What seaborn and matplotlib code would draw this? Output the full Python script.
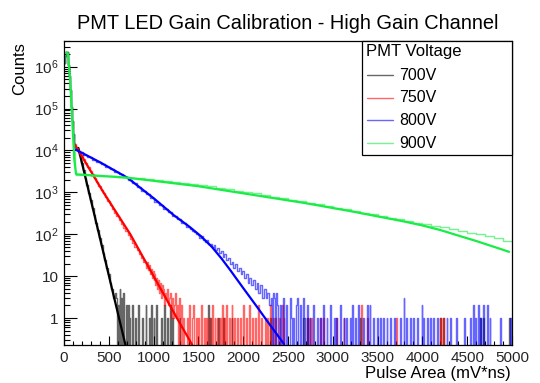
import numpy as np
import matplotlib
matplotlib.use("Agg")
import matplotlib.pyplot as plt
import seaborn as sns
from matplotlib.lines import Line2D
from matplotlib.patches import Rectangle
from matplotlib.ticker import FixedLocator, FixedFormatter, MultipleLocator, LogLocator, NullFormatter

# ---------------------------------------------------------------- data
series_labels = ["700V", "750V", "800V", "900V"]
hist_colors = ["#000000", "#ff0000", "#0000ff", "#19ec45"]

# pedestal region, 10 mV*ns bins starting at 0
head_700 = [1.2e6, 1.8e6, 2.3e6, 2.3e6, 1.8e6, 1.1e6, 6e5, 2.8e5, 1.1e5, 5e4, 2.5e4]
head_750 = [1.2e6, 1.8e6, 2.3e6, 2.3e6, 1.8e6, 1.1e6, 6e5, 2.8e5, 1.1e5, 5e4, 2.5e4]
head_800 = [1.2e6, 1.8e6, 2.3e6, 2.3e6, 1.8e6, 1.1e6, 6e5, 2.8e5, 1.1e5, 5e4, 2.5e4]
head_900 = [1.2e6, 1.8e6, 2.3e6, 2.3e6, 1.8e6, 1.1e6, 6e5, 2.8e5, 1.1e5, 5e4, 2.5e4, 9000, 3000]

# single-photoelectron slope (wider bins)
body_edges_700 = list(range(110, 571, 20))
body_counts_700 = [12000, 11000, 10000, 7600, 5100, 3370, 2230, 1480, 980, 650, 430, 285,
                   190, 125, 83, 55, 36, 24, 16, 11, 7, 5, 3]
body_edges_750 = list(range(110, 911, 25))
body_counts_750 = [14400, 11700, 9400, 7600, 6200, 5000, 4060, 3300, 2680, 2180, 1770, 1430,
                   1160, 940, 765, 620, 500, 405, 330, 270, 218, 177, 144, 117, 94, 76,
                   62, 50, 41, 33, 27, 22]
body_edges_800 = list(range(110, 1411, 50)) + list(range(1430, 2311, 20))
body_counts_800 = [10200, 9100, 7900, 6900, 6000, 5300, 4650, 4050, 3550, 3100, 2700, 2350,
                   2000, 1650, 1350, 1100, 910, 740, 600, 500, 410, 335, 275, 225, 185, 150,
                   132, 120, 112, 100, 95, 83, 89, 72, 66, 71, 58, 60, 50, 55, 42, 46,
                   35, 40, 28, 33, 24, 27, 20, 22, 16, 19, 13, 16, 11, 13, 9, 11, 7, 9,
                   6, 8, 5, 7, 4, 6, 3, 5, 3, 4, 2]
body_edges_900 = [130] + list(range(200, 5001, 100))
body_counts_900 = [2650, 2580, 2520, 2460, 2400, 2330, 2250, 2170, 2080, 1980,
                   1880, 1780, 1690, 1590, 1490, 1400, 1300, 1200, 1100, 1020,
                   950, 870, 790, 730, 670, 610, 560, 515, 470, 430,
                   395, 360, 330, 300, 275, 250, 228, 208, 190, 173,
                   158, 145, 132, 120, 110, 100, 90, 80, 70]

# sparse tail: left edges of non-empty 10 mV*ns bins and their counts
tail_x_700 = [570, 580, 600, 620, 640, 660, 690, 710, 730, 760, 790, 830, 870, 910, 950,
              970, 1000, 1030, 1080, 1120, 1150, 1180, 1210, 1290, 1610, 1630, 1720, 1780,
              1870, 2300, 2670, 2710, 3300, 4200, 4230, 4640, 4680, 4970]
tail_n_700 = [4, 3, 2, 5, 3, 4, 2, 2, 1, 2, 1, 2, 1, 2, 1,
              2, 1, 2, 1, 2, 1, 2, 1, 1, 2, 1, 1, 1,
              1, 1, 1, 1, 1, 1, 1, 1, 1, 1]
tail_x_750 = [910, 920, 930, 940, 950, 960, 970, 980, 990, 1000, 1010, 1020, 1030, 1040, 1050,
              1060, 1070, 1080, 1090, 1100, 1110, 1120, 1130, 1140, 1150, 1160, 1170, 1180,
              1190, 1200, 1210, 1220, 1230, 1240, 1250, 1260, 1280, 1300, 1310, 1330, 1370,
              1400, 1430, 1440, 1470, 1500, 1530, 1560, 1590, 1620, 1650, 1680, 1710, 1740,
              1760, 1790, 1810, 1840, 1870, 1900, 1930, 1960, 2000, 2030, 2070, 2100, 2130,
              2170, 2200, 2240, 2270, 2300, 2330, 2360, 2400, 2430, 2450, 2710, 2740, 2760,
              2860, 2890, 3040, 3120, 3320, 3380, 3710, 4200, 4230]
tail_n_750 = [20, 16, 22, 14, 18, 11, 15, 9, 13, 8, 11, 6, 9, 5, 8,
              4, 7, 3, 6, 4, 5, 2, 4, 3, 5, 2, 3, 4,
              1, 2, 3, 1, 2, 4, 1, 2, 3, 1, 2, 1, 1,
              2, 1, 2, 1, 1, 2, 1, 1, 1, 2, 1, 1, 1,
              2, 1, 2, 1, 2, 1, 1, 1, 2, 1, 2, 1, 1,
              2, 1, 1, 1, 2, 1, 1, 1, 2, 1, 1, 1, 1,
              1, 1, 1, 1, 2, 1, 1, 1, 1]
tail_x_800 = [2310, 2330, 2340, 2370, 2380, 2410, 2440, 2450, 2480, 2520, 2530, 2560, 2590,
              2600, 2630, 2670, 2680, 2710, 2740, 2780, 2820, 2860, 2890, 2930, 2970, 3010,
              3040, 3080, 3120, 3150, 3190, 3210, 3250, 3280, 3340, 3380, 3410, 3450, 3490,
              3530, 3560, 3600, 3640, 3680, 3750, 3790, 3820, 3860, 3900, 3940, 3990, 4010,
              4050, 4090, 4120, 4160, 4270, 4310, 4380, 4460, 4530, 4570, 4590, 4620, 4640,
              4680, 4720, 4750, 4870, 4980]
tail_n_800 = [3, 4, 3, 4, 2, 2, 3, 2, 2, 3, 1, 1, 2,
              3, 2, 3, 1, 2, 1, 2, 1, 1, 2, 1, 2, 1,
              1, 2, 1, 1, 1, 2, 1, 2, 1, 2, 2, 1, 1,
              1, 1, 1, 1, 1, 1, 3, 1, 1, 1, 1, 2, 1,
              1, 1, 1, 1, 1, 1, 1, 1, 1, 2, 1, 2, 1,
              2, 2, 1, 1, 1]
tail_x_900 = []
tail_n_900 = []

# fitted curves
fit_x_700 = [160, 279, 391, 502, 614, 686]
fit_y_700 = [11500, 1000, 100, 10, 1, 0.227]
fit_x_750 = [112, 160, 440, 740, 1000, 1260, 1432]
fit_y_750 = [14800, 10000, 1000, 100, 10, 1, 0.227]
fit_x_800 = [130, 400, 707, 1000, 1228, 1400, 1525, 1650, 1760, 1860, 2000, 2158, 2300, 2455]
fit_y_800 = [10500, 5250, 2240, 725, 282, 151, 91, 50, 26, 13.5, 5.2, 1.8, 0.68, 0.24]
fit_x_900 = [25, 45, 70, 95, 115, 135, 707, 1488, 2678, 3200, 3784, 4000, 4200, 4400,
             4600, 4800, 4968]
fit_y_900 = [2.2e6, 2.0e6, 4e5, 4e4, 6000, 2700, 2240, 1410, 560, 355, 204, 162, 126, 93,
             69, 50, 38]

x_ticks = [0, 500, 1000, 1500, 2000, 2500, 3000, 3500, 4000, 4500, 5000]
y_ticks = [1, 10, 1e2, 1e3, 1e4, 1e5, 1e6]
y_tick_labels = ["1", "10", r"$10^{2}$", r"$10^{3}$", r"$10^{4}$", r"$10^{5}$", r"$10^{6}$"]


def build_hist(head, body_edges, body_counts, tail_x, tail_n, x_max=5000, width=10):
    edges = [width * i for i in range(len(head) + 1)]
    counts = list(head)
    edges += body_edges[1:]
    counts += body_counts
    start = body_edges[-1]
    lookup = dict(zip(tail_x, tail_n))
    for left in range(start, x_max, width):
        edges.append(left + width)
        counts.append(lookup.get(left, 0))
    centers = [0.5 * (a + b) for a, b in zip(edges[:-1], edges[1:])]
    return [float(e) for e in edges], centers, [float(c) for c in counts]


hists = [
    build_hist(head_700, body_edges_700, body_counts_700, tail_x_700, tail_n_700),
    build_hist(head_750, body_edges_750, body_counts_750, tail_x_750, tail_n_750),
    build_hist(head_800, body_edges_800, body_counts_800, tail_x_800, tail_n_800),
    build_hist(head_900, body_edges_900, body_counts_900, tail_x_900, tail_n_900),
]
fits = [(fit_x_700, fit_y_700), (fit_x_750, fit_y_750),
        (fit_x_800, fit_y_800), (fit_x_900, fit_y_900)]

# ---------------------------------------------------------------- style
sns.set_theme(style="white")
plt.rcParams["font.family"] = ["Liberation Sans", "DejaVu Sans"]
plt.rcParams["mathtext.fontset"] = "custom"
plt.rcParams["mathtext.rm"] = "Liberation Sans"
plt.rcParams["mathtext.it"] = "Liberation Sans:italic"
plt.rcParams["mathtext.bf"] = "Liberation Sans:bold"

W, H = 540, 383
fig = plt.figure(figsize=(W / 100, H / 100), dpi=100)
fig.patch.set_facecolor("white")


def fx(px):
    return px / W


def fy(py):
    return 1 - py / H


ax = fig.add_axes([fx(64), fy(345), (512 - 64) / W, (345 - 41) / H])
ax.set_facecolor("white")
ax.set_yscale("log")

for (edges, centers, counts), (xf, yf), color in zip(hists, fits, hist_colors):
    sns.histplot(x=centers, weights=counts, bins=edges, element="step", fill=False,
                 color=color, alpha=0.6, linewidth=1.0, ax=ax)
    sns.lineplot(x=xf, y=yf, color=color, linewidth=1.6, sort=False,
                 estimator=None, ax=ax)

ax.set_xlim(0, 5000)
ax.set_ylim(0.227, 4.1e6)
ax.set_xlabel("")
ax.set_ylabel("")

for side in ["top", "right", "left", "bottom"]:
    ax.spines[side].set_visible(True)
    ax.spines[side].set_color("black")
    ax.spines[side].set_linewidth(0.9)

ax.xaxis.set_major_locator(FixedLocator(x_ticks))
ax.xaxis.set_major_formatter(FixedFormatter([str(v) for v in x_ticks]))
ax.xaxis.set_minor_locator(MultipleLocator(100))
ax.yaxis.set_major_locator(FixedLocator(y_ticks))
ax.yaxis.set_major_formatter(FixedFormatter(y_tick_labels))
ax.yaxis.set_minor_locator(LogLocator(base=10, subs=np.arange(2, 10)))
ax.yaxis.set_minor_formatter(NullFormatter())

ax.tick_params(axis="x", which="major", direction="in", length=6.5, width=0.8,
               color="black", labelsize=11, pad=4, top=False, bottom=True)
ax.tick_params(axis="x", which="minor", direction="in", length=3.2, width=0.8,
               color="black", top=False, bottom=True)
ax.tick_params(axis="y", which="major", direction="in", length=9, width=0.8,
               color="black", labelsize=11, pad=4, left=True, right=False)
ax.tick_params(axis="y", which="minor", direction="in", length=4.5, width=0.8,
               color="black", left=True, right=False)

# titles
fig.text(fx(288), fy(29), "PMT LED Gain Calibration - High Gain Channel",
         ha="center", va="baseline", fontsize=14.4, color="black")
fig.text(fx(20), fy(42), "Counts", rotation=90, ha="center", va="top",
         fontsize=12, color="black")
fig.text(fx(511), fy(378), "Pulse Area (mV*ns)", ha="right", va="baseline",
         fontsize=12, color="black")

# legend box
fig.add_artist(Rectangle((fx(362), fy(155)), 150 / W, 114 / H, transform=fig.transFigure,
                         facecolor="white", edgecolor="black", linewidth=0.9, zorder=5))
fig.text(fx(365.5), fy(51.7), "PMT Voltage", ha="left", va="center", fontsize=12,
         color="black", zorder=6)
for i, (label, color) in enumerate(zip(series_labels, hist_colors)):
    yc = 75 + i * 22.7
    fig.add_artist(Line2D([fx(367), fx(393)], [fy(yc), fy(yc)], transform=fig.transFigure,
                          color=color, alpha=0.6, linewidth=1.0, zorder=6))
    fig.text(fx(399), fy(yc), label, ha="left", va="center", fontsize=11.5,
             color="black", zorder=6)

fig.savefig("out.png", dpi=100, facecolor="white")
